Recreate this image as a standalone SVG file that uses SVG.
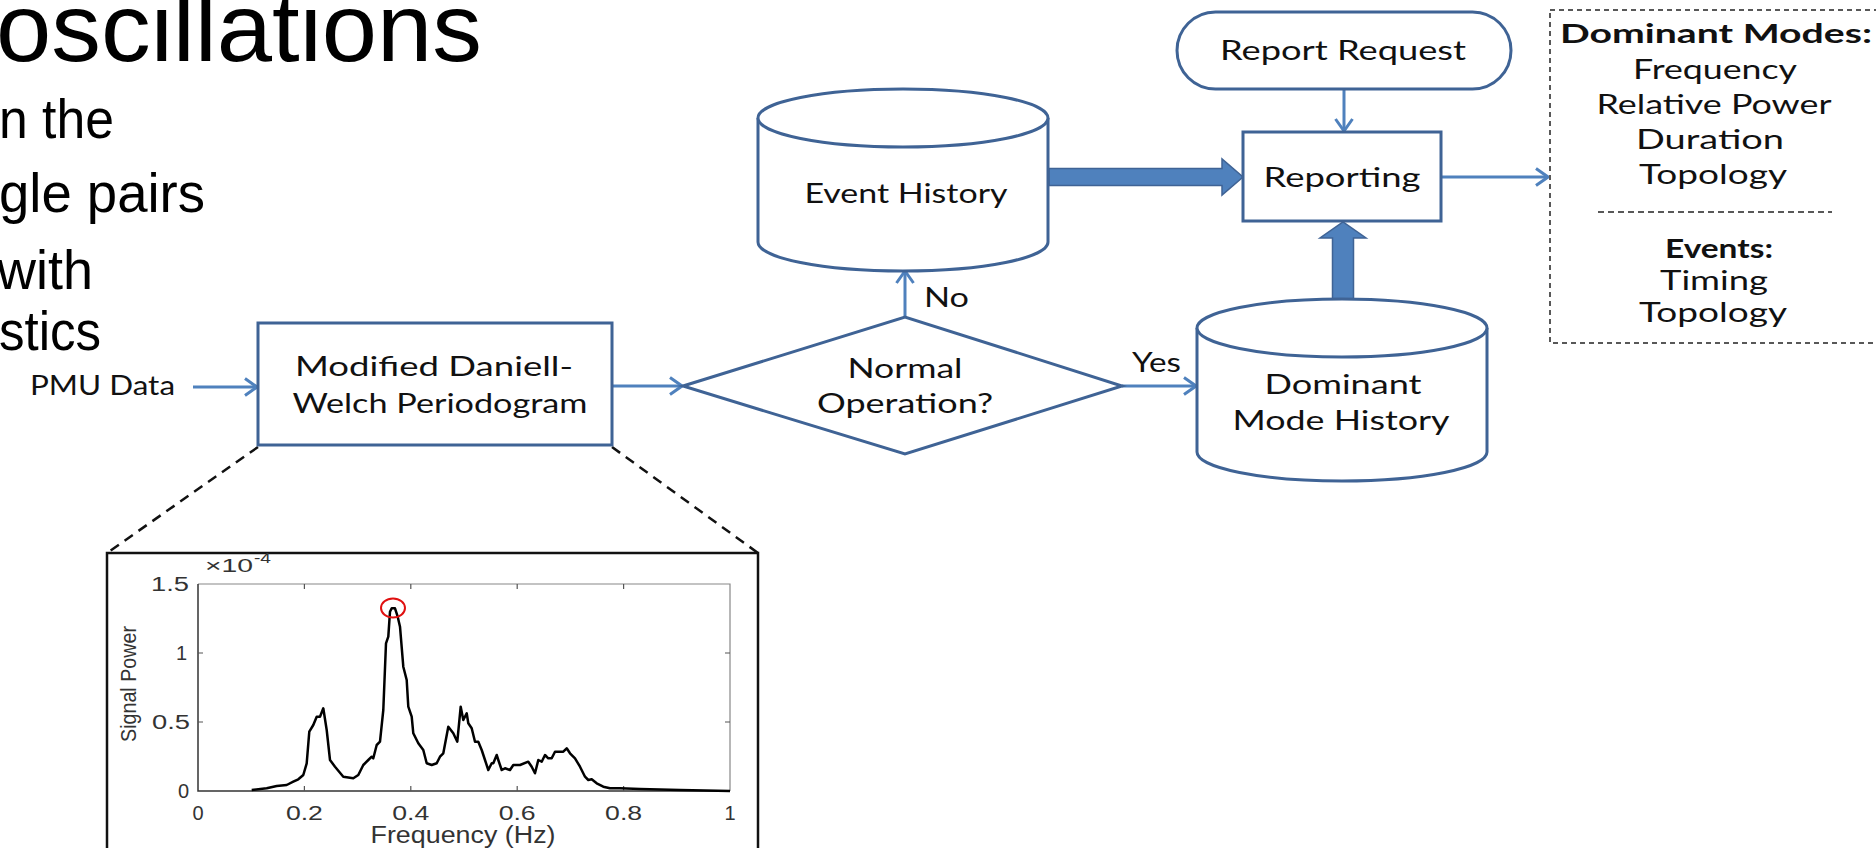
<svg xmlns="http://www.w3.org/2000/svg" width="1876" height="848" viewBox="0 0 1876 848">
<defs>
<style>
.slide{font-family:"Liberation Sans",Arial,sans-serif;fill:#000}
.lbl{font-family:Lato,"Open Sans",sans-serif;font-size:27px;fill:#111}
.b{font-weight:bold}
.node{fill:#fff;stroke:#3F6395;stroke-width:3}
.conn{stroke:#4F81BD;stroke-width:3;fill:none}
.thick{fill:#4F81BD;stroke:#3F6395;stroke-width:1.5}
.ax{font-family:"Liberation Sans",Arial,sans-serif;fill:#333;font-size:20px}
</style>
<marker id="ah" viewBox="0 0 14 20" refX="13" refY="10" markerWidth="14" markerHeight="20" markerUnits="userSpaceOnUse" orient="auto">
<path d="M1,1.5 L13,10 L1,18.5" fill="none" stroke="#4F81BD" stroke-width="3"/>
</marker>
</defs>
<rect width="1876" height="848" fill="#fff"/>

<g id="slide-text" class="slide">
<text x="-4" y="61" font-size="96" textLength="486" lengthAdjust="spacingAndGlyphs">oscillations</text>
<text x="-1" y="138" font-size="55" textLength="115" lengthAdjust="spacingAndGlyphs">n the</text>
<text x="-1" y="212" font-size="55" textLength="206" lengthAdjust="spacingAndGlyphs">gle pairs</text>
<text x="-3" y="289" font-size="55" textLength="96" lengthAdjust="spacingAndGlyphs">with</text>
<text x="-1" y="350" font-size="55" textLength="102" lengthAdjust="spacingAndGlyphs">stics</text>
</g>

<g id="connectors">
<line class="conn" x1="193" y1="387" x2="257" y2="387" marker-end="url(#ah)"/>
<line class="conn" x1="612" y1="386" x2="682" y2="386" marker-end="url(#ah)"/>
<line class="conn" x1="905" y1="317" x2="905" y2="271" marker-end="url(#ah)"/>
<line class="conn" x1="1122" y1="386" x2="1196" y2="386" marker-end="url(#ah)"/>
<line class="conn" x1="1344" y1="89" x2="1344" y2="131" marker-end="url(#ah)"/>
<line class="conn" x1="1441" y1="177" x2="1548" y2="177" marker-end="url(#ah)"/>
<polygon class="thick" points="1049,168.5 1222,168.5 1222,159 1243,177 1222,195 1222,185.5 1049,185.5"/>
<polygon class="thick" points="1332.5,299 1332.5,238 1320,238 1343,222 1366,238 1353.5,238 1353.5,299"/>
<line x1="258" y1="447" x2="107" y2="553" stroke="#111" stroke-width="2.5" stroke-dasharray="10,7"/>
<line x1="612" y1="447" x2="758" y2="553" stroke="#111" stroke-width="2.5" stroke-dasharray="10,7"/>
</g>

<g id="pmu-data">
<text class="lbl" x="30" y="395" textLength="145" lengthAdjust="spacingAndGlyphs">PMU Data</text>
</g>

<g id="periodogram-box">
<rect class="node" x="258" y="323" width="354" height="122"/>
<text class="lbl" x="434" y="376" text-anchor="middle" textLength="278" lengthAdjust="spacingAndGlyphs">Modified Daniell-</text>
<text class="lbl" x="440" y="413" text-anchor="middle" textLength="295" lengthAdjust="spacingAndGlyphs">Welch Periodogram</text>
</g>

<g id="normal-operation">
<polygon class="node" points="683,386 905,317 1122,386 905,454"/>
<text class="lbl" x="905" y="378" text-anchor="middle" textLength="115" lengthAdjust="spacingAndGlyphs">Normal</text>
<text class="lbl" x="905" y="413" text-anchor="middle" textLength="176" lengthAdjust="spacingAndGlyphs">Operation?</text>
<text class="lbl" x="924" y="307" textLength="45" lengthAdjust="spacingAndGlyphs">No</text>
<text class="lbl" x="1132" y="372" textLength="49" lengthAdjust="spacingAndGlyphs">Yes</text>
</g>

<g id="event-history">
<path class="node" d="M758,118 L758,242 A145,29 0 0 0 1048,242 L1048,118 A145,29 0 0 0 758,118 Z"/>
<path class="node" fill="none" d="M758,118 A145,29 0 0 0 1048,118"/>
<text class="lbl" x="906" y="203" text-anchor="middle" textLength="203" lengthAdjust="spacingAndGlyphs">Event History</text>
</g>

<g id="dominant-mode-history">
<path class="node" d="M1197,328 L1197,452 A145,29 0 0 0 1487,452 L1487,328 A145,29 0 0 0 1197,328 Z"/>
<path class="node" fill="none" d="M1197,328 A145,29 0 0 0 1487,328"/>
<text class="lbl" x="1343" y="394" text-anchor="middle" textLength="157" lengthAdjust="spacingAndGlyphs">Dominant</text>
<text class="lbl" x="1341" y="430" text-anchor="middle" textLength="217" lengthAdjust="spacingAndGlyphs">Mode History</text>
</g>

<g id="report-request">
<rect class="node" x="1177" y="12" width="334" height="77" rx="38.5" ry="38.5"/>
<text class="lbl" x="1343" y="60" text-anchor="middle" textLength="246" lengthAdjust="spacingAndGlyphs">Report Request</text>
</g>

<g id="reporting">
<rect class="node" x="1243" y="132" width="198" height="89"/>
<text class="lbl" x="1342" y="187" text-anchor="middle" textLength="157" lengthAdjust="spacingAndGlyphs">Reporting</text>
</g>

<g id="output-summary">
<rect x="1550" y="10" width="400" height="333" fill="none" stroke="#222" stroke-width="1.5" stroke-dasharray="5,4"/>
<text class="lbl b" x="1716" y="43" text-anchor="middle" textLength="312" lengthAdjust="spacingAndGlyphs">Dominant Modes:</text>
<text class="lbl" x="1715" y="79" text-anchor="middle" textLength="164" lengthAdjust="spacingAndGlyphs">Frequency</text>
<text class="lbl" x="1714" y="114" text-anchor="middle" textLength="235" lengthAdjust="spacingAndGlyphs">Relative Power</text>
<text class="lbl" x="1710" y="149" text-anchor="middle" textLength="148" lengthAdjust="spacingAndGlyphs">Duration</text>
<text class="lbl" x="1713" y="184" text-anchor="middle" textLength="148" lengthAdjust="spacingAndGlyphs">Topology</text>
<line x1="1598" y1="212" x2="1832" y2="212" stroke="#222" stroke-width="1.5" stroke-dasharray="6,4"/>
<text class="lbl b" x="1719" y="258" text-anchor="middle" textLength="108" lengthAdjust="spacingAndGlyphs">Events:</text>
<text class="lbl" x="1714" y="290" text-anchor="middle" textLength="108" lengthAdjust="spacingAndGlyphs">Timing</text>
<text class="lbl" x="1713" y="322" text-anchor="middle" textLength="148" lengthAdjust="spacingAndGlyphs">Topology</text>
</g>

<g id="spectrum-plot">
<rect x="107" y="553" width="651" height="310" fill="#fff" stroke="#111" stroke-width="2.5"/>
<path d="M198,584 H730 V791" fill="none" stroke="#888" stroke-width="1.2"/>
<path d="M198,584 V791 H730" fill="none" stroke="#333" stroke-width="1.5"/>
<path d="M304.4,791 v-5 M410.8,791 v-5 M517.2,791 v-5 M623.6,791 v-5 M304.4,584 v5 M410.8,584 v5 M517.2,584 v5 M623.6,584 v5 M198,722 h5 M198,653 h5 M730,722 h-5 M730,653 h-5" stroke="#555" stroke-width="1.2"/>
<g class="ax">
<text x="198" y="820" text-anchor="middle">0</text>
<text x="304.4" y="820" text-anchor="middle" textLength="37" lengthAdjust="spacingAndGlyphs">0.2</text>
<text x="410.8" y="820" text-anchor="middle" textLength="37" lengthAdjust="spacingAndGlyphs">0.4</text>
<text x="517.2" y="820" text-anchor="middle" textLength="37" lengthAdjust="spacingAndGlyphs">0.6</text>
<text x="623.6" y="820" text-anchor="middle" textLength="37" lengthAdjust="spacingAndGlyphs">0.8</text>
<text x="730" y="820" text-anchor="middle">1</text>
<text x="189" y="798" text-anchor="end">0</text>
<text x="190" y="729" text-anchor="end" textLength="38" lengthAdjust="spacingAndGlyphs">0.5</text>
<text x="187" y="660" text-anchor="end">1</text>
<text x="189" y="591" text-anchor="end" textLength="38" lengthAdjust="spacingAndGlyphs">1.5</text>
<text x="205" y="572" font-size="19" textLength="48" lengthAdjust="spacingAndGlyphs">×10</text>
<text x="254" y="563" font-size="14" textLength="17" lengthAdjust="spacingAndGlyphs">-4</text>
<text transform="translate(136,684) rotate(-90)" text-anchor="middle" font-size="22" textLength="116" lengthAdjust="spacingAndGlyphs">Signal Power</text>
<text x="463" y="843" text-anchor="middle" font-size="23" textLength="185" lengthAdjust="spacingAndGlyphs">Frequency (Hz)</text>
</g>
<polyline fill="none" stroke="#000" stroke-width="2.5" stroke-linejoin="round" points="251.7,790 266.7,788.3 276.7,786 286.7,785 293.3,781.7 298.3,779.3 303.3,775 306.7,763.3 309.3,731.7 313.3,725 316.7,716.7 320,716.7 323.3,708.3 326.7,730 330,760 335,766.7 343.3,776.7 353.3,778.3 358.3,775 363.3,765 368.3,760 371.7,756.7 373.3,758.3 376.7,745 380,741.7 383.3,710 386,643.3 388.3,636.7 390,611.7 391.7,608.3 395,608.3 397.7,616.7 400,626.7 403.3,666.7 406.7,680 408.3,706.7 411.7,716.7 413.3,733.3 418.3,743.3 423.3,750 426.7,763.3 431.7,765 436.7,763.3 440,756.7 443.3,753.3 448.3,726.7 453.3,733.3 457.3,741.7 460.7,706.7 463.3,720 466.7,713.3 468.3,723.3 471.7,728.3 475,741.7 478.3,741.7 481.7,750 485,760 488.3,770 491.7,763.3 493.3,763.3 496.7,755 498.3,760 501.7,770 505,768.3 510,770 513.3,765 520,765 528.3,761.7 531.7,766.7 535,773.3 538.3,760 541.7,761.7 545,755 548.3,758.3 551.7,758.3 555,751.7 563.3,751.7 566.7,748.3 570,753.3 575,758.3 580,766.7 585,776.7 588.3,780 591.7,779.3 596.7,783.3 603.3,786.7 610,788.3 620,788.3 640,789 680,790 730,791"/>
<ellipse cx="393" cy="608" rx="12" ry="9.5" fill="none" stroke="#e01010" stroke-width="2"/>
</g>
</svg>
